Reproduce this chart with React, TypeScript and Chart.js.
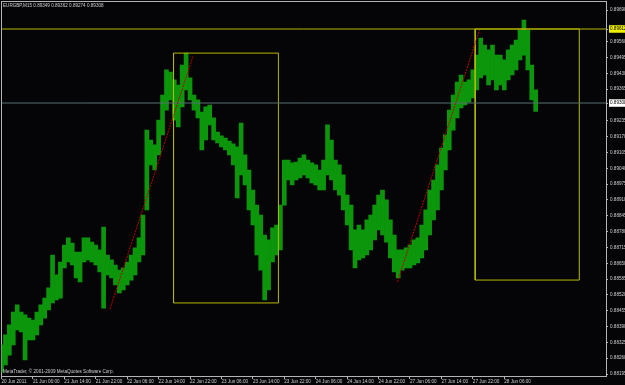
import React, { useEffect, useRef } from "react";
import { Chart, registerables } from "chart.js";
Chart.register(...registerables);

const headerText = "EURGBP,M15  0.89349 0.89362 0.89274 0.89308";
const copyrightText = "MetaTrader, © 2001-2009 MetaQuotes Software Corp.";

// x-axis labels, one every 8 hours (32 M15 bars)
const timeLabels = [
  "20 Jun 2011", "21 Jun 06:00", "21 Jun 14:00", "21 Jun 22:00", "22 Jun 06:00",
  "22 Jun 14:00", "22 Jun 22:00", "23 Jun 06:00", "23 Jun 14:00", "23 Jun 22:00",
  "24 Jun 06:00", "24 Jun 14:00", "24 Jun 22:00", "27 Jun 06:00", "27 Jun 14:00",
  "27 Jun 22:00", "28 Jun 06:00",
];

// hourly high / low of EURGBP (index = hours from start)
const hourHigh = [
  0.88315, 0.88356, 0.88397, 0.8845, 0.88479, 0.8845, 0.88438, 0.88425, 0.88417, 0.8845,
  0.88479, 0.88507, 0.88549, 0.88684, 0.88602, 0.88655, 0.88725, 0.88754, 0.88733, 0.88696,
  0.88696, 0.88754, 0.88754, 0.88737, 0.88725, 0.88705, 0.88799, 0.88684, 0.88664, 0.88643,
  0.88622, 0.88631, 0.88655, 0.88684, 0.88713, 0.88754, 0.88848, 0.89197, 0.89156, 0.89136,
  0.89238, 0.89341, 0.89444, 0.89435, 0.89403, 0.89382, 0.89464, 0.89513, 0.89411, 0.89341,
  0.89321, 0.89271, 0.89292, 0.893, 0.89247, 0.89189, 0.89173, 0.89164, 0.89152, 0.8914,
  0.89128, 0.89226, 0.89095, 0.89033, 0.88951, 0.88889, 0.88848, 0.88766, 0.88746, 0.88795,
  0.88807, 0.88889, 0.89074, 0.89074, 0.89062, 0.89066, 0.89082, 0.89095, 0.89074, 0.89062,
  0.89054, 0.89033, 0.89074, 0.89218, 0.89156, 0.89074, 0.89054, 0.89013, 0.8893, 0.88889,
  0.88787, 0.88807, 0.88787, 0.88828, 0.88848, 0.88889, 0.8893, 0.88951, 0.8891, 0.88828,
  0.88766, 0.88705, 0.88705, 0.88713, 0.88725, 0.88746, 0.88754, 0.88807, 0.88869, 0.88951,
  0.88992, 0.89054, 0.89123, 0.89177, 0.89279, 0.89341, 0.89394, 0.89423, 0.89394, 0.89403,
  0.89444, 0.89505, 0.89575, 0.89546, 0.89526, 0.89546, 0.89505, 0.89505, 0.89485, 0.89526,
  0.89546, 0.89567, 0.89608, 0.89649, 0.89608, 0.89464, 0.89362,
];
const hourLow = [
  0.88203, 0.88232, 0.88273, 0.88315, 0.88376, 0.88368, 0.88253, 0.88335, 0.88335, 0.88356,
  0.88397, 0.88425, 0.88458, 0.88487, 0.88499, 0.88507, 0.88631, 0.88655, 0.88643, 0.8859,
  0.88573, 0.88655, 0.88664, 0.88655, 0.88643, 0.88614, 0.88466, 0.88602, 0.8859, 0.88561,
  0.88528, 0.8854, 0.88561, 0.88581, 0.88602, 0.88655, 0.88684, 0.88869, 0.89054, 0.89033,
  0.89095, 0.89177, 0.89279, 0.89321, 0.89238, 0.8921, 0.89292, 0.89362, 0.89321, 0.89279,
  0.89247, 0.89115, 0.89156, 0.89218, 0.89156, 0.89144, 0.89128, 0.89115, 0.89095, 0.89054,
  0.88918, 0.89013, 0.88972, 0.88869, 0.88807, 0.88684, 0.88622, 0.88499, 0.8854, 0.88655,
  0.88684, 0.88705, 0.88889, 0.88992, 0.88972, 0.88992, 0.89, 0.89013, 0.89, 0.8898,
  0.88972, 0.88951, 0.88951, 0.89013, 0.88992, 0.88951, 0.8893, 0.88869, 0.88807, 0.88705,
  0.88631, 0.88664, 0.88672, 0.88684, 0.88705, 0.88746, 0.88787, 0.88766, 0.88737, 0.88672,
  0.88614, 0.8859, 0.88622, 0.88631, 0.88631, 0.88643, 0.88651, 0.88672, 0.88705, 0.88766,
  0.88828, 0.88869, 0.88951, 0.89033, 0.89115, 0.89197, 0.89247, 0.89288, 0.893, 0.89312,
  0.89329, 0.89362, 0.89411, 0.89423, 0.89382, 0.89403, 0.89362, 0.89382, 0.89362, 0.89403,
  0.89423, 0.89444, 0.89485, 0.89505, 0.89444, 0.89321, 0.89274,
];

// price scale labels
const priceTicks = [
  0.88195, 0.8826, 0.88325, 0.8839, 0.88455, 0.8852, 0.88585, 0.8865, 0.88715, 0.8878,
  0.88845, 0.8891, 0.88975, 0.8904, 0.89105, 0.8917, 0.89235, 0.89308, 0.89365, 0.8943,
  0.89495, 0.8956, 0.89612, 0.8969,
];
const levelPrice = 0.89612; // yellow horizontal line
const bidPrice = 0.89308; // last price line

// rectangles (hours, prices)
const box1Hours = [43.8, 70.5];
const box1Prices = [0.88487, 0.89513];
const box2Hours = [120.6, 147.1];
const box2Prices = [0.88581, 0.89612];

// trend lines (hours, prices)
const trend1Hours = [27.6, 48.8];
const trend1Prices = [0.88461, 0.89502];
const trend2Hours = [100.8, 121.7];
const trend2Prices = [0.88573, 0.89608];

const X_MIN = 0;
const X_MAX = 153.9;
const Y_MIN = 0.88187;
const Y_MAX = 0.89727;

const FONT = "'Liberation Sans', Arial, sans-serif";
const AXIS_GRAY = "#b4b4b4";
const TEXT_GRAY = "#cfcfcf";
const YELLOW = "#b8b800";
const TREND_RED = "#c00000";

function rect(hours: number[], prices: number[]) {
  return [
    { x: hours[0], y: prices[0] },
    { x: hours[1], y: prices[0] },
    { x: hours[1], y: prices[1] },
    { x: hours[0], y: prices[1] },
    { x: hours[0], y: prices[0] },
  ];
}

function fixSize(w: number | null, h: number | null) {
  return (s: any) => {
    if (w !== null) s.width = w;
    if (h !== null) s.height = h;
    s.paddingLeft = 0;
    s.paddingRight = 0;
    s.paddingTop = 0;
    s.paddingBottom = 0;
  };
}

export default function App() {
  const ref = useRef<HTMLCanvasElement | null>(null);
  useEffect(() => {
    document.body.style.margin = "0";
    document.body.style.background = "#050507";
    const canvas = ref.current!;
    const bars = hourHigh.map((h, i) => ({ x: i, y: [hourLow[i], h] }));
    const line = (data: any[], color: string, dash: number[] = [], order = 0) => ({
      type: "line" as const,
      data,
      borderColor: color,
      borderWidth: 1,
      borderDash: dash,
      pointRadius: 0,
      fill: false,
      tension: 0,
      order,
      xAxisID: "x",
      yAxisID: "y",
    });
    const chart = new Chart(canvas, {
      type: "bar",
      data: {
        datasets: [
          line(trend1Hours.map((h, i) => ({ x: h, y: trend1Prices[i] })), TREND_RED, [2, 1]),
          line(trend2Hours.map((h, i) => ({ x: h, y: trend2Prices[i] })), TREND_RED, [2, 1]),
          line([{ x: X_MIN, y: levelPrice }, { x: X_MAX, y: levelPrice }], YELLOW, [], 1),
          line([{ x: X_MIN, y: bidPrice }, { x: X_MAX, y: bidPrice }], "#587070", [], 1),
          line(rect(box1Hours, box1Prices), YELLOW, [], 1),
          line(rect(box2Hours, box2Prices), YELLOW, [], 1),
          {
            type: "bar" as const,
            data: bars as any,
            backgroundColor: "#0b960b",
            borderWidth: 0,
            barThickness: 4,
            order: 10,
            xAxisID: "x",
            yAxisID: "y",
          },
        ] as any,
      },
      options: {
        responsive: false,
        animation: false,
        events: [],
        layout: { padding: { left: 1.5, top: 1, right: 0, bottom: 0 } },
        plugins: { legend: { display: false }, tooltip: { enabled: false }, title: { display: false } },
        scales: {
          x: {
            type: "linear",
            position: "bottom",
            offset: false,
            min: X_MIN,
            max: X_MAX,
            afterBuildTicks: (s: any) => {
              s.ticks = timeLabels.map((_, i) => ({ value: i * 8 }));
            },
            afterFit: fixSize(null, 9),
            ticks: {
              autoSkip: false,
              maxRotation: 0,
              minRotation: 0,
              align: "start",
              padding: 0,
              color: TEXT_GRAY,
              font: { size: 4.6, family: FONT },
              callback: (_v: any, i: number) => timeLabels[i],
            },
            grid: { display: true, offset: false, drawOnChartArea: false, drawTicks: true, tickLength: 3, color: AXIS_GRAY },
            border: { display: true, color: AXIS_GRAY },
          },
          y: {
            type: "linear",
            position: "right",
            min: Y_MIN,
            max: Y_MAX,
            afterBuildTicks: (s: any) => {
              s.ticks = priceTicks.map((v) => ({ value: v }));
            },
            afterFit: fixSize(19, null),
            ticks: {
              autoSkip: false,
              padding: 2,
              font: { size: 4.6, family: FONT },
              color: (c: any) =>
                c.tick && (c.tick.value === levelPrice || c.tick.value === bidPrice) ? "#000" : TEXT_GRAY,
              showLabelBackdrop: (c: any) =>
                !!c.tick && (c.tick.value === levelPrice || c.tick.value === bidPrice),
              backdropColor: (c: any) =>
                c.tick && c.tick.value === levelPrice ? "#f0f000" : "#ffffff",
              backdropPadding: { top: 1, bottom: 1, left: 1, right: 4 },
              callback: (v: any) => Number(v).toFixed(5),
            },
            grid: { display: true, drawOnChartArea: false, drawTicks: true, tickLength: 2, color: AXIS_GRAY },
            border: { display: true, color: AXIS_GRAY },
          },
          xTop: {
            type: "linear",
            position: "top",
            offset: false,
            min: 0,
            max: 1,
            ticks: { display: false },
            grid: { display: false },
            border: { display: true, color: AXIS_GRAY },
            afterFit: fixSize(null, 0),
          },
          yLeft: {
            type: "linear",
            position: "left",
            min: 0,
            max: 1,
            ticks: { display: false },
            grid: { display: false },
            border: { display: true, color: AXIS_GRAY },
            afterFit: fixSize(0, null),
          },
        } as any,
      },
    });
    return () => chart.destroy();
  }, []);

  const textStyle: React.CSSProperties = {
    position: "absolute",
    left: 3,
    fontFamily: FONT,
    fontSize: "4.6px",
    lineHeight: "5px",
    color: TEXT_GRAY,
    whiteSpace: "nowrap",
  };

  return (
    <div style={{ position: "fixed", left: 0, top: 0, width: 625, height: 385, background: "#050507", overflow: "hidden" }}>
      <canvas ref={ref} width={625} height={385} style={{ display: "block", width: 625, height: 385 }} />
      <div style={{ ...textStyle, top: 3 }}>{headerText}</div>
      <div style={{ ...textStyle, top: 369 }}>{copyrightText}</div>
    </div>
  );
}
